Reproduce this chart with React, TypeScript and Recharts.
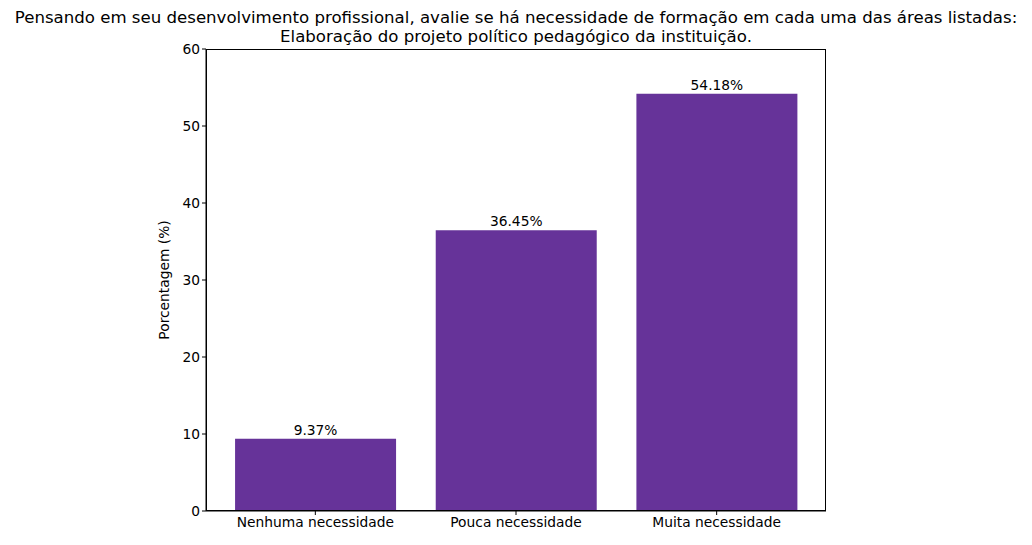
import { BarChart, Bar, XAxis, YAxis, LabelList } from "recharts";

const categories = ["Nenhuma necessidade", "Pouca necessidade", "Muita necessidade"];
const percentages = [9.37, 36.45, 54.18];
const yTicks = [0, 10, 20, 30, 40, 50, 60];

const data = categories.map((name, i) => ({ name, value: percentages[i] }));

const FONT = "DejaVu Sans, sans-serif";

export default function App() {
  return (
    <div style={{ position: "absolute", left: 0, top: 0, width: 1032, height: 545, background: "#fff", fontFamily: FONT }}>
      <div style={{ position: "absolute", top: 8, left: 0, width: 1032, textAlign: "center", fontSize: 16.6, lineHeight: "19px", color: "#000" }}>
        Pensando em seu desenvolvimento profissional, avalie se há necessidade de formação em cada uma das áreas listadas:
        <br />
        Elaboração do projeto político pedagógico da instituição.
      </div>
      <BarChart
        width={1032}
        height={545}
        data={data}
        margin={{ top: 49, right: 206, bottom: 4, left: 146 }}
        barCategoryGap="10%"
      >
        <XAxis
          dataKey="name"
          padding={{ left: 9, right: 9 }}
          height={30}
          tick={{ fill: "#000", fontSize: 13.8, fontFamily: FONT }}
          tickLine={{ stroke: "#000" }}
          axisLine={{ stroke: "#000" }}
          tickSize={4}
        />
        <YAxis
          width={60}
          domain={[0, 60]}
          ticks={yTicks}
          tick={{ fill: "#000", fontSize: 13.8, fontFamily: FONT }}
          tickLine={{ stroke: "#000" }}
          axisLine={{ stroke: "#000" }}
          tickSize={4}
          label={{ value: "Porcentagem (%)", angle: -90, position: "insideLeft", offset: 18, style: { fill: "#000", fontSize: 13.8, fontFamily: FONT, textAnchor: "middle" } }}
        />
        <Bar dataKey="value" fill="#663399" isAnimationActive={false}>
          <LabelList
            dataKey="value"
            position="top"
            offset={4}
            formatter={(v: number) => `${v.toFixed(2)}%`}
            style={{ fill: "#000", fontSize: 13.8, fontFamily: FONT }}
          />
        </Bar>
      </BarChart>
      <div style={{ position: "absolute", left: 206, top: 49, width: 620, height: 462, border: "1px solid #000", boxSizing: "border-box", pointerEvents: "none" }} />
    </div>
  );
}
